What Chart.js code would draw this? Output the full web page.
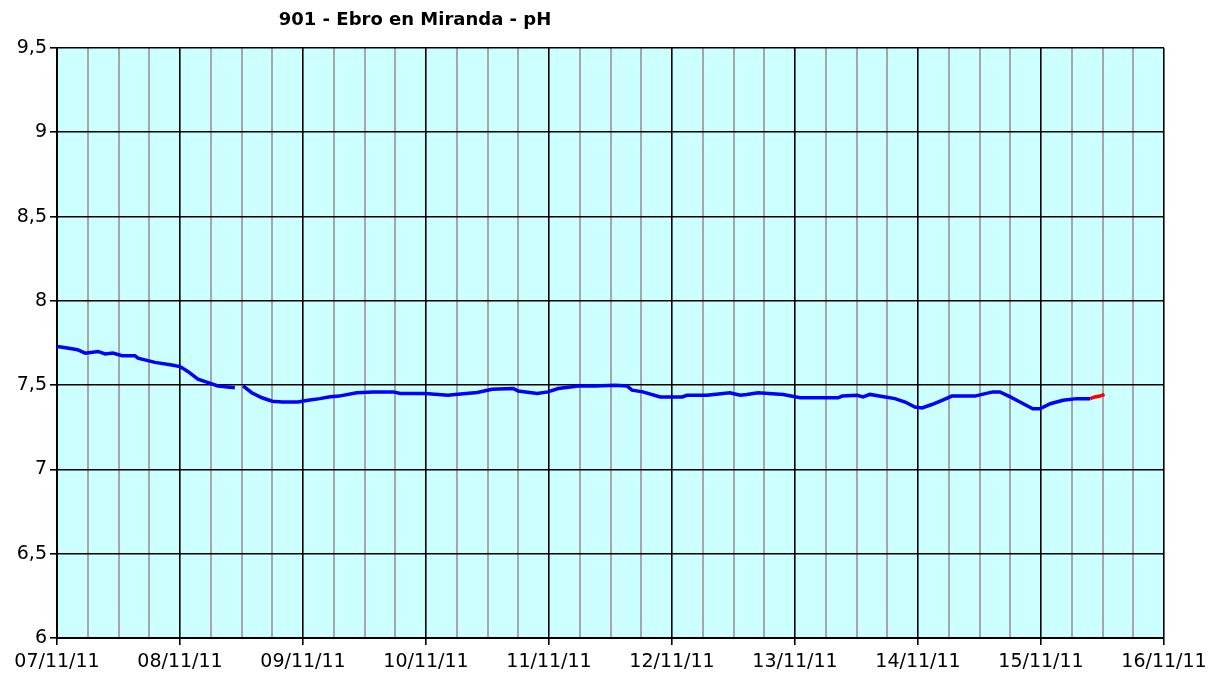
<!DOCTYPE html>
<html>
<head>
<meta charset="utf-8">
<script src="https://cdn.jsdelivr.net/npm/chart.js@4"></script>
<style>
  html, body { margin: 0; padding: 0; background: #ffffff; }
  #wrap { width: 1221px; height: 679px; position: relative; }
</style>
</head>
<body>
<div id="wrap"><canvas id="c" width="1221" height="679"></canvas></div>
<script>
const chartTitle = "901 - Ebro en Miranda - pH";
const dayLabels = ["07/11/11", "08/11/11", "09/11/11", "10/11/11", "11/11/11", "12/11/11", "13/11/11", "14/11/11", "15/11/11", "16/11/11"];

// hours since 07/11/11 00:00
const hoursMain = [0, 2, 4, 5.5, 8, 9.4, 10.9, 12.7, 15.2, 15.8, 19.1, 22.4, 24, 25.6, 27.5, 29.5, 31.4, 34.7, 35.5, 36.3, 38, 40, 42, 44, 47, 49, 51.3, 53, 55, 58.5, 61.7, 65.6, 67, 71.8, 76.3, 77.7, 82, 84.9, 89, 90, 93.7, 95.8, 97.8, 101.7, 105, 108.9, 111.2, 112.2, 114.3, 117.7, 122, 122.9, 126.8, 131.3, 133.3, 134.6, 136.8, 141.7, 145, 152.4, 153.2, 156.1, 157.3, 158.6, 161.6, 163.5, 165.5, 167.4, 168.8, 170.7, 172.7, 174.6, 179.1, 180.5, 182.6, 184, 186, 187.9, 190.4, 191.8, 193.8, 196.3, 199, 201.6];
const phMain = [7.73, 7.72, 7.71, 7.69, 7.70, 7.685, 7.69, 7.675, 7.675, 7.66, 7.635, 7.62, 7.61, 7.58, 7.535, 7.515, 7.495, 7.485, null, 7.495, 7.455, 7.425, 7.405, 7.40, 7.40, 7.41, 7.42, 7.43, 7.435, 7.455, 7.46, 7.46, 7.45, 7.45, 7.44, 7.445, 7.457, 7.475, 7.48, 7.465, 7.45, 7.46, 7.48, 7.495, 7.495, 7.50, 7.495, 7.47, 7.46, 7.43, 7.43, 7.44, 7.44, 7.455, 7.44, 7.445, 7.455, 7.445, 7.425, 7.425, 7.435, 7.44, 7.43, 7.445, 7.43, 7.42, 7.40, 7.37, 7.365, 7.385, 7.41, 7.435, 7.435, 7.445, 7.46, 7.46, 7.43, 7.40, 7.36, 7.36, 7.39, 7.41, 7.42, 7.42];

const hoursRecent = [201.6, 202.5, 203.5, 204.4];
const phRecent = [7.42, 7.43, 7.435, 7.445];

const yTicks = [6, 6.5, 7, 7.5, 8, 8.5, 9, 9.5];

const toPts = (xs, ys) => xs.map((x, i) => ({ x: x, y: ys[i] }));

const bgPlugin = {
  id: 'bg',
  beforeDraw(chart) {
    const { ctx, chartArea: a } = chart;
    ctx.save();
    ctx.fillStyle = '#CCFFFF';
    ctx.fillRect(a.left, a.top, a.right - a.left, a.bottom - a.top);
    ctx.restore();
  },
  afterDraw(chart) {
    const { ctx } = chart;
    ctx.save();
    ctx.font = 'bold 18px "DejaVu Sans"';
    ctx.fillStyle = '#000000';
    ctx.textAlign = 'center';
    ctx.textBaseline = 'alphabetic';
    ctx.fillText(chartTitle, 415, 25);
    ctx.restore();
  }
};

new Chart(document.getElementById('c'), {
  type: 'line',
  data: {
    datasets: [
      {
        data: toPts(hoursMain, phMain),
        borderColor: '#0000FF',
        borderWidth: 3.5,
        pointRadius: 0,
        tension: 0,
        spanGaps: false
      },
      {
        data: toPts(hoursRecent, phRecent),
        borderColor: '#FF0000',
        borderWidth: 3.5,
        pointRadius: 0,
        tension: 0
      }
    ]
  },
  options: {
    responsive: false,
    animation: false,
    devicePixelRatio: 1,
    layout: { padding: { top: 48, right: 57, left: 0, bottom: 0 } },
    plugins: { legend: { display: false }, title: { display: false }, tooltip: { enabled: false } },
    scales: {
      x: {
        type: 'linear',
        min: 0,
        max: 216,
        afterFit(s) { s.height = 41; },
        afterBuildTicks(s) {
          const t = [];
          for (let h = 0; h <= 216; h += 6) t.push({ value: h });
          s.ticks = t;
        },
        border: { display: true, color: '#000000', width: 2 },
        grid: {
          color: c => (c.tick && c.tick.value % 24 === 0) ? '#000000' : '#A6A6A6',
          lineWidth: c => (c.tick && c.tick.value % 24 === 0) ? 1.6 : 2,
          tickColor: c => (c.tick && c.tick.value % 24 === 0) ? '#000000' : 'rgba(0,0,0,0)',
          tickLength: 7,
          drawTicks: true
        },
        ticks: {
          autoSkip: false,
          maxRotation: 0,
          padding: 6,
          color: '#000000',
          font: { family: '"DejaVu Sans"', size: 19 },
          callback: v => (v % 24 === 0) ? dayLabels[v / 24] : ''
        }
      },
      y: {
        min: 6,
        max: 9.5,
        afterFit(s) { s.width = 57; },
        afterBuildTicks(s) { s.ticks = yTicks.map(v => ({ value: v })); },
        border: { display: true, color: '#000000', width: 2 },
        grid: { color: '#000000', lineWidth: 1.6, tickColor: '#000000', tickLength: 7 },
        ticks: {
          padding: 3,
          color: '#000000',
          font: { family: '"DejaVu Sans"', size: 19 },
          callback: v => String(v).replace('.', ',')
        }
      }
    }
  },
  plugins: [bgPlugin]
});
</script>
</body>
</html>
